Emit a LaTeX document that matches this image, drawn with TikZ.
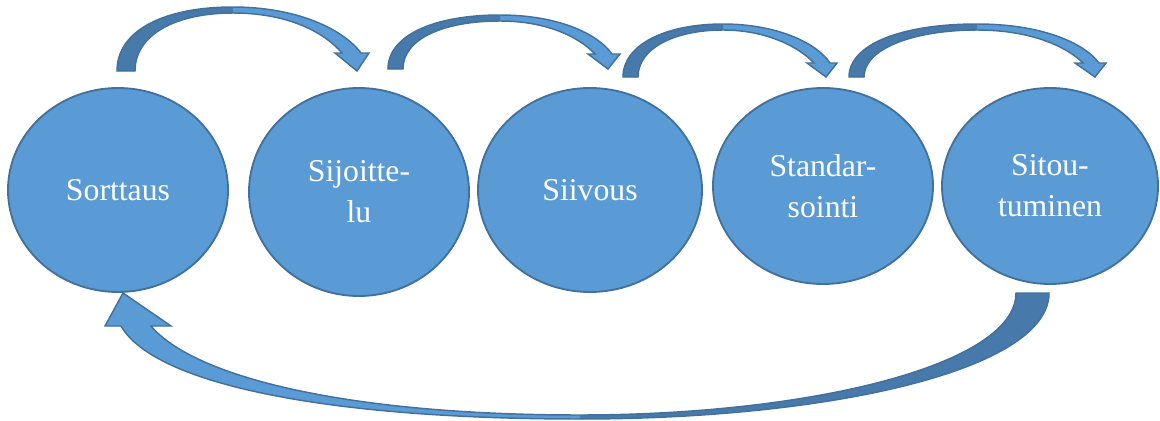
\documentclass[tikz,border=0pt]{standalone}
\usepackage{fontspec}
\setmainfont{Liberation Serif}
\usetikzlibrary{shapes.geometric}
\definecolor{lightblue}{HTML}{5B9BD5}
\definecolor{darkblue}{HTML}{4779AA}
\definecolor{edgeblue}{HTML}{41719C}
\begin{document}
\begin{tikzpicture}[x=0.75pt,y=-0.75pt,
  stage/.style={ellipse, draw=edgeblue, line width=1.4pt, fill=lightblue, inner sep=0pt,
    text=white, align=center, font=\fontsize{23.8}{30.75}\selectfont},
  bodyfill/.style={fill=lightblue},
  backfill/.style={fill=darkblue},
  outline/.style={draw=edgeblue, line width=1.1pt, line join=miter}]
\useasboundingbox (0,0) rectangle (1160,421);

% stages
\node[stage, minimum width=165pt, minimum height=153pt] (sort) at (118,190) {Sorttaus};
\node[stage, minimum width=165pt, minimum height=156pt] (sij) at (359,192) {Sijoitte-\\lu};
\node[stage, minimum width=168pt, minimum height=153pt] (sii) at (590,190) {Siivous};
\node[stage, minimum width=165pt, minimum height=147pt] (sta) at (823,186) {Standar-\\sointi};
\node[stage, minimum width=162pt, minimum height=147pt] (sit) at (1050,186) {Sitou-\\tuminen};

% arrow 1
\def\arrowA{(117,71) .. controls (117,30) and (165,7) .. (233,7) .. controls (295,7) and (342,28) .. (361,53) -- (369,53) -- (357,71) -- (335,53) -- (342,53) .. controls (322,30) and (285,13) .. (233,13) .. controls (175,13) and (135,35) .. (135,71) -- cycle}
\fill[bodyfill] \arrowA;
\fill[backfill] (117,71) .. controls (117,30) and (165,7) .. (233,7) -- (233,13) .. controls (175,13) and (135,35) .. (135,71) -- cycle;
\draw[outline] \arrowA;

% arrow 2
\def\arrowB{(388,69) .. controls (388,35) and (435,15) .. (500,15) .. controls (555,15) and (596,32) .. (612,54) -- (620,54) -- (608,69) -- (588,54) -- (595,54) .. controls (578,36) and (545,21) .. (500,21) .. controls (445,21) and (403,38) .. (403,69) -- cycle}
\fill[bodyfill] \arrowB;
\fill[backfill] (388,69) .. controls (388,35) and (435,15) .. (500,15) -- (500,21) .. controls (445,21) and (403,38) .. (403,69) -- cycle;
\draw[outline] \arrowB;

% arrow 3
\def\arrowC{(623,77) .. controls (623,45) and (665,24) .. (723,24) .. controls (775,24) and (816,42) .. (830,63) -- (837,63) -- (826,77) -- (807,63) -- (814,63) .. controls (798,46) and (765,30) .. (723,30) .. controls (675,30) and (638,48) .. (638,77) -- cycle}
\fill[bodyfill] \arrowC;
\fill[backfill] (623,77) .. controls (623,45) and (665,24) .. (723,24) -- (723,30) .. controls (675,30) and (638,48) .. (638,77) -- cycle;
\draw[outline] \arrowC;

% arrow 4
\def\arrowD{(849,77) .. controls (849,45) and (900,24) .. (977,24) .. controls (1040,24) and (1083,42) .. (1099,63) -- (1106,63) -- (1095,77) -- (1075,63) -- (1083,63) .. controls (1066,46) and (1030,30) .. (977,30) .. controls (915,30) and (864,48) .. (864,77) -- cycle}
\fill[bodyfill] \arrowD;
\fill[backfill] (849,77) .. controls (849,45) and (900,24) .. (977,24) -- (977,30) .. controls (915,30) and (864,48) .. (864,77) -- cycle;
\draw[outline] \arrowD;

% return arrow
\def\arrowE{(1049,293) .. controls (1049,370) and (830,419) .. (580,419) .. controls (330,419) and (155,385) .. (121,326) -- (105,326) -- (123,293) -- (171,326) -- (151,326) .. controls (195,378) and (350,415) .. (580,415) .. controls (810,415) and (1016,365) .. (1016,293) -- cycle}
\fill[bodyfill] \arrowE;
\fill[backfill] (1049,293) .. controls (1049,370) and (830,419) .. (580,419) -- (580,415) .. controls (810,415) and (1016,365) .. (1016,293) -- cycle;
\draw[outline] \arrowE;
\end{tikzpicture}
\end{document}
